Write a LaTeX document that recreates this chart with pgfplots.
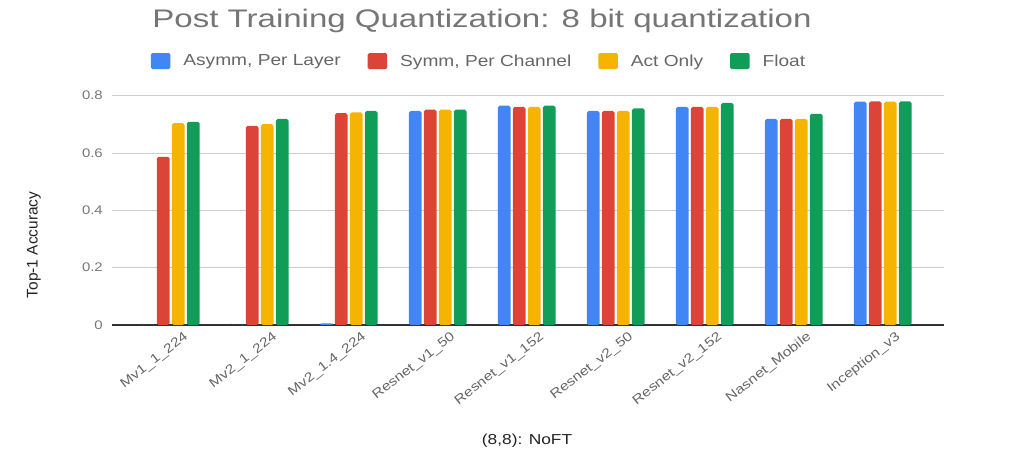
\documentclass[border=0pt]{standalone}
\usepackage{pgfplots}
\pgfplotsset{compat=1.18}
\usepackage{fontspec}
\setmainfont{Liberation Sans}[FakeStretch=1.2]
\newfontfamily\ylabfont{Liberation Sans}
\newfontfamily\titlefont{Liberation Sans}[FakeStretch=1.3]
\definecolor{gblue}{HTML}{4285F4}
\definecolor{gred}{HTML}{DB4437}
\definecolor{gyellow}{HTML}{F4B400}
\definecolor{ggreen}{HTML}{0F9D58}
\definecolor{titlegray}{HTML}{757575}
\definecolor{textgray}{HTML}{666666}
\definecolor{tickgray}{HTML}{777777}
\definecolor{darktext}{HTML}{222222}

\pgfplotstableread{
x asymm symm act float
0 0     0.587 0.704 0.709
1 0     0.695 0.701 0.719
2 0.006 0.739 0.742 0.747
3 0.747 0.751 0.751 0.751
4 0.765 0.761 0.761 0.765
5 0.747 0.747 0.747 0.756
6 0.761 0.761 0.761 0.775
7 0.719 0.719 0.719 0.737
8 0.779 0.780 0.779 0.780
}\datatable

\begin{document}
\begin{tikzpicture}
\path[use as bounding box] (0,0) rectangle (1024bp,459bp);
\begin{axis}[
  at={(112bp,134bp)}, anchor=south west,
  scale only axis,
  width=832bp, height=229.3bp,
  xmin=-0.66, xmax=8.688,
  ymin=0, ymax=0.8,
  ytick={0,0.2,0.4,0.6,0.8},
  yticklabels={0,0.2,0.4,0.6,0.8},
  xtick={0,...,8},
  xticklabels={Mv1\_1\_224,Mv2\_1\_224,Mv2\_1.4\_224,Resnet\_v1\_50,Resnet\_v1\_152,Resnet\_v2\_50,Resnet\_v2\_152,Nasnet\_Mobile,Inception\_v3},
  major tick length=0pt,
  axis x line*=bottom,
  axis y line*=left,
  y axis line style={draw=none},
  x axis line style={draw=black!80, line width=1.4bp, -},
  ymajorgrids,
  grid style={draw=black!20, line width=0.8bp},
  ybar,
  bar width=12.7bp,
  /pgf/number format/assume math mode=true,
  yticklabel style={font=\fontsize{12.5}{14}\selectfont, text=tickgray, anchor=east, inner xsep=0pt, xshift=-9bp},
  xticklabel style={font=\fontsize{13}{15}\selectfont, text=textgray, rotate=38, anchor=north east, inner sep=0pt, xshift=6bp, yshift=-12bp},
  title={Post Training Quantization: 8 bit quantization},
  title style={font=\titlefont\fontsize{25.5}{28}\selectfont, text=titlegray, at={(0.4447,1.294)}, anchor=base, inner sep=0pt, yshift=-5bp},
  xlabel={(8,8): NoFT},
  xlabel style={font=\fontsize{14.5}{16}\selectfont, text=darktext, at={(0.4988,-0.506)}, anchor=base, inner sep=0pt, yshift=-3bp},
  ylabel={Top-1 Accuracy},
  ylabel style={font=\ylabfont\fontsize{15.5}{17}\selectfont, text=darktext, at={(-0.0938,0.349)}, anchor=center, inner sep=0pt},
  legend columns=4,
  legend style={draw=none, fill=none, at={(0.0465,1.151)}, anchor=west, inner sep=0pt,
    font=\fontsize{16}{18}\selectfont, text=textgray,
    nodes={inner sep=0pt},
    /tikz/every odd column/.append style={column sep=13bp},
    /tikz/every even column/.append style={column sep=27bp}},
  legend image code/.code={\fill[#1, rounded corners=1.5bp] (0bp,-8bp) rectangle (19.5bp,8bp);},
]
\addplot[fill=gblue, draw=none, bar shift=-22.5bp, rounded corners=1.8bp] table[x=x, y=asymm] {\datatable};
\addplot[fill=gred, draw=none, bar shift=-7.5bp, rounded corners=1.8bp] table[x=x, y=symm] {\datatable};
\addplot[fill=gyellow, draw=none, bar shift=7.5bp, rounded corners=1.8bp] table[x=x, y=act] {\datatable};
\addplot[fill=ggreen, draw=none, bar shift=22.5bp, rounded corners=1.8bp] table[x=x, y=float] {\datatable};
\legend{Asymm{,} Per Layer, Symm{,} Per Channel, Act Only, Float}
\end{axis}
\end{tikzpicture}
\end{document}
